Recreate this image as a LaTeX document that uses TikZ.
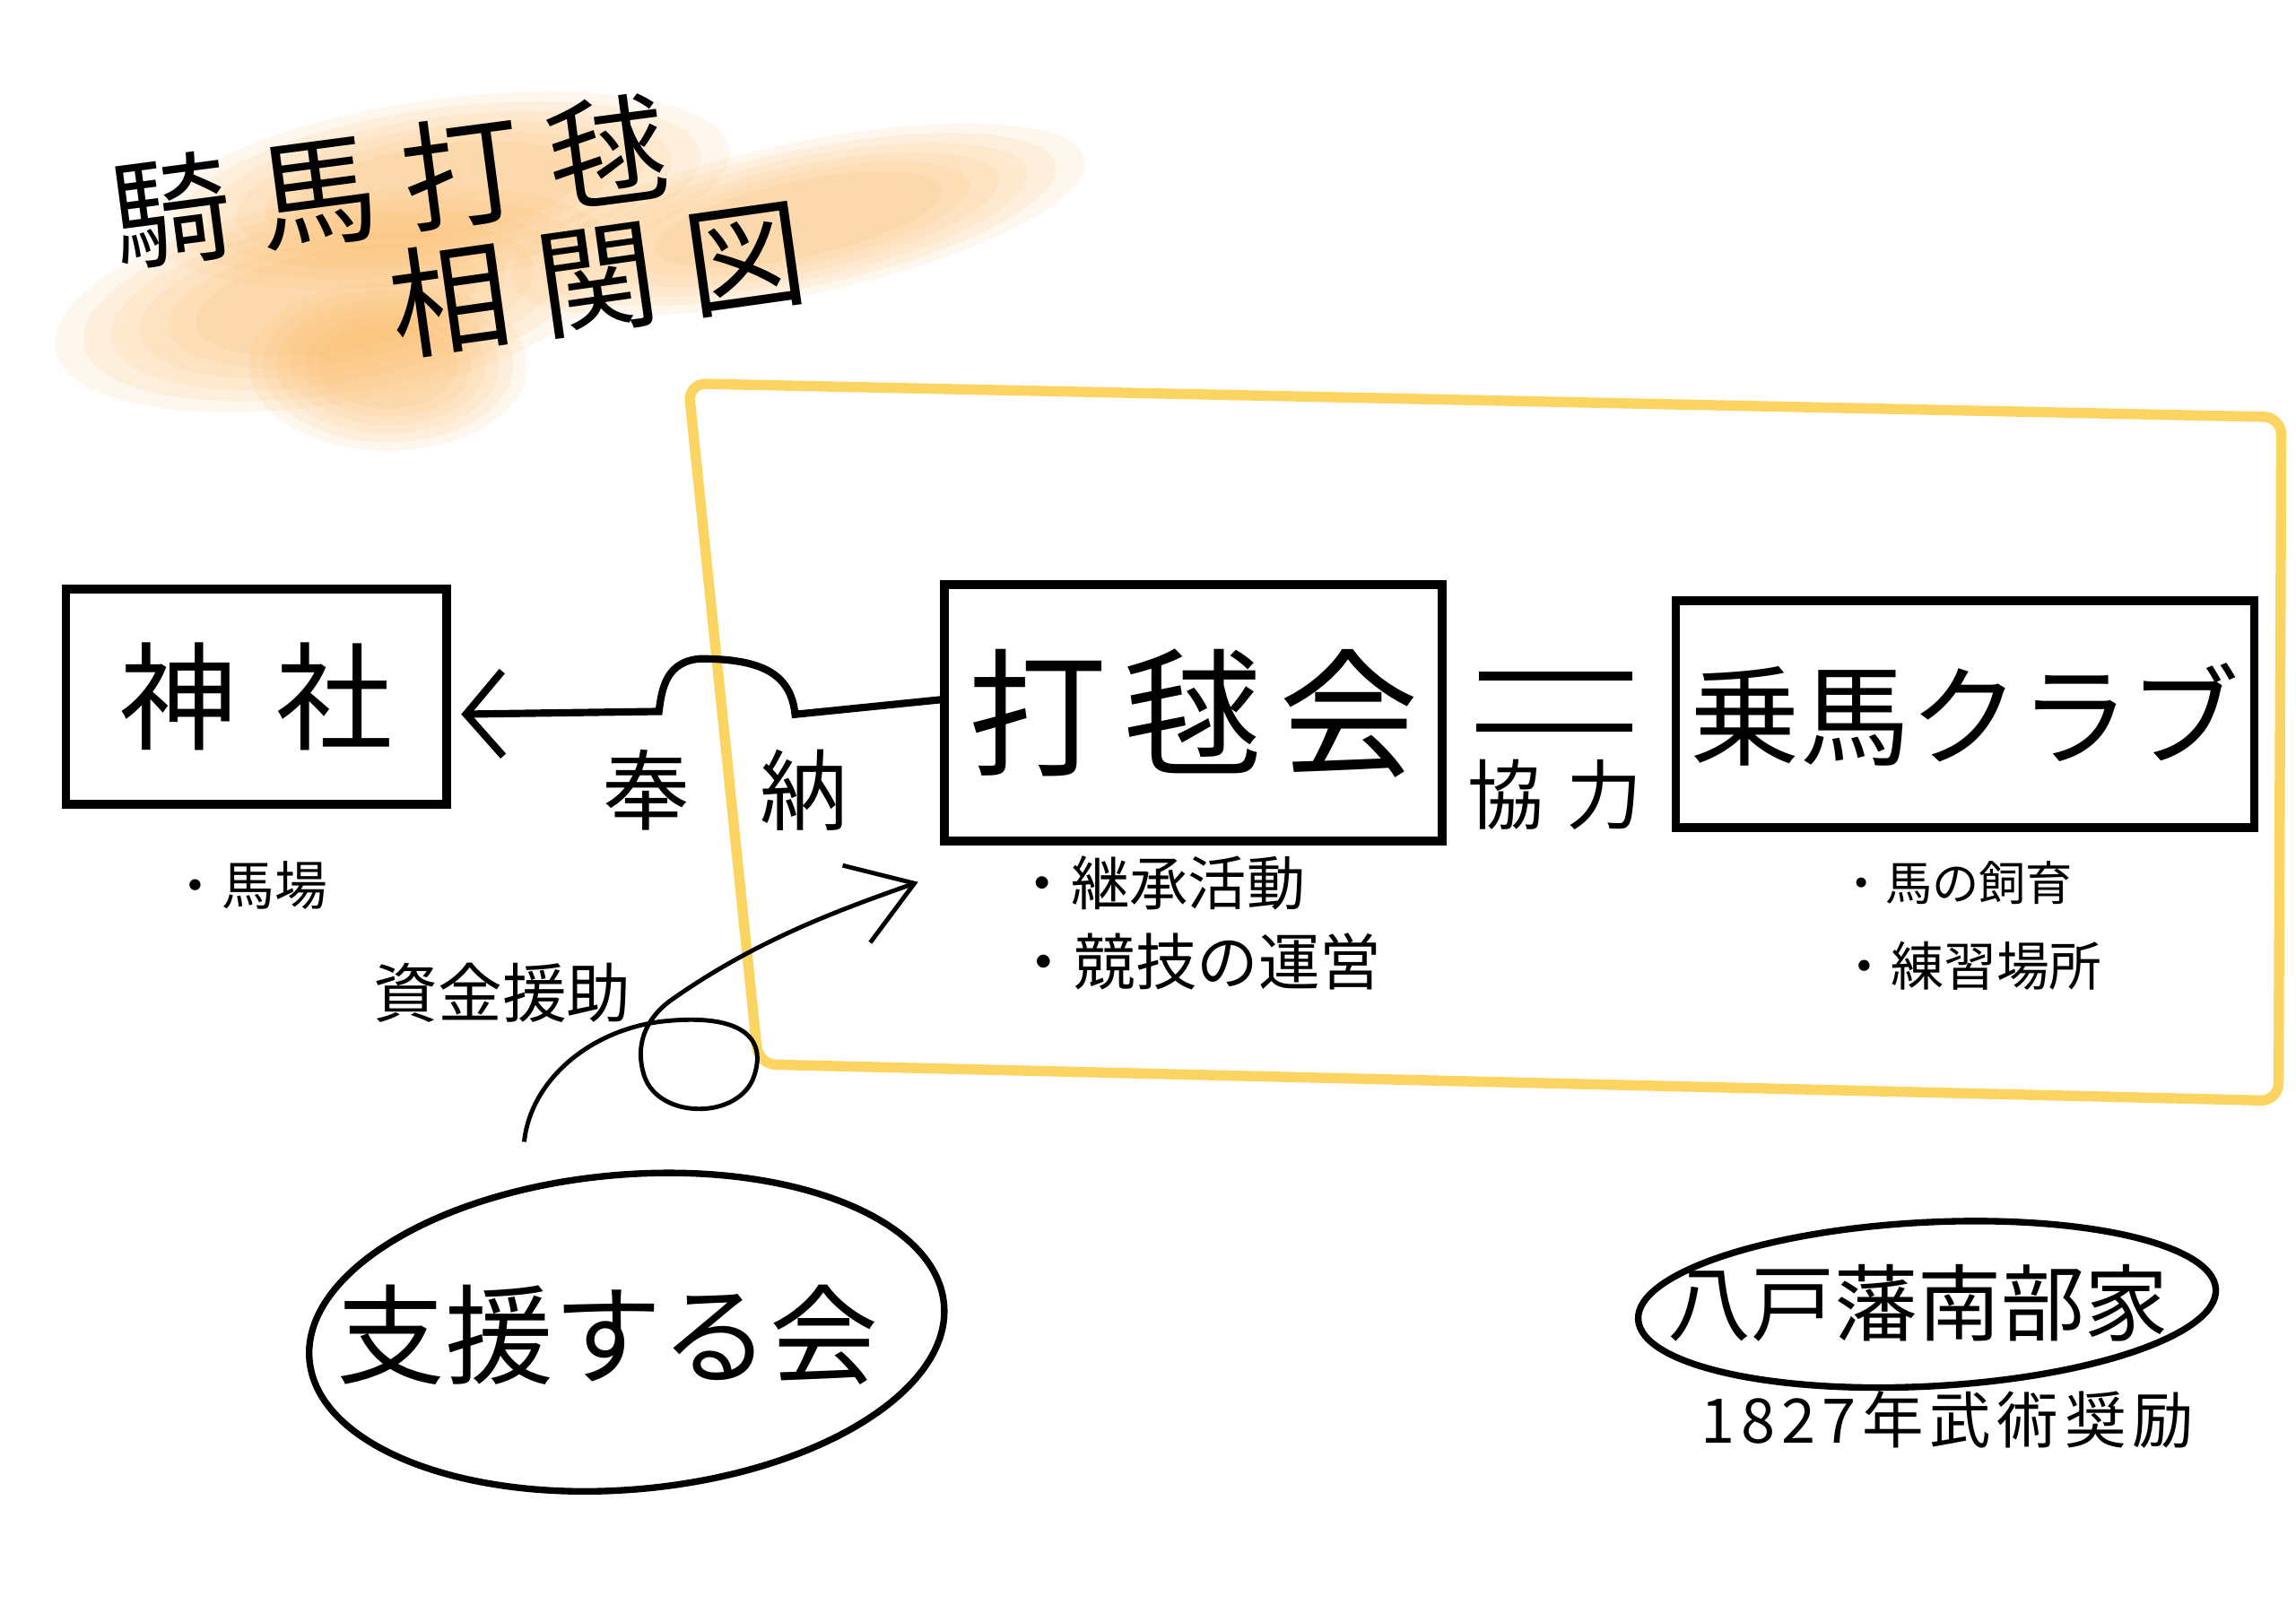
\documentclass[tikz,border=0pt]{standalone}
\usepackage{fontspec}
\setmainfont{Noto Sans CJK JP}
\usetikzlibrary{arrows.meta,shapes.geometric}
\newcommand\hwfont[2]{\fontsize{#1}{#1}\selectfont\addfontfeature{LetterSpace=#2}}
\definecolor{brushorange}{RGB}{250,180,90}
\definecolor{crayon}{RGB}{250,205,70}

\begin{document}
\begin{tikzpicture}[x=1pt,y=-1pt,
    box/.style={draw,line width=6pt,inner sep=0pt},
    ring/.style={draw,ellipse,line width=4.5pt,inner sep=0pt},
    blob/.style={fill=brushorange,fill opacity=0.11}]
  \useasboundingbox (0,0) rectangle (1568,1108);
  % watercolour behind the title
  \foreach \s in {1,0.9,0.8,0.7,0.6,0.5} {
    \fill[blob,rotate around={10:(230,205)}] (230,205) ellipse [x radius=195*\s,y radius=70*\s];
    \fill[blob] (265,250) ellipse [x radius=95*\s,y radius=58*\s];
    \fill[blob,rotate around={12:(545,150)}] (545,150) ellipse [x radius=200*\s,y radius=52*\s];
    \fill[blob,rotate around={8:(300,130)}] (300,130) ellipse [x radius=200*\s,y radius=62*\s];
  }
  \node[rotate=7.5,font=\hwfont{82}{22}] (title) at (266,124) {騎馬打毬};
  \node[rotate=8,font=\hwfont{82}{24}] (subtitle) at (408,190) {相関図};
  % crayon frame
  \draw[crayon,line width=7pt,opacity=0.85,rounded corners=12pt]
    (470,262) -- (1558,285) -- (1556,752) -- (518,727) -- cycle;
  % boxes
  \node[box,minimum width=260,minimum height=147,font=\hwfont{80}{33}] (jinja) at (175,476) {神社};
  \node[box,minimum width=340,minimum height=175,font=\hwfont{95}{12}] (dakyu) at (815,487) {打毬会};
  \node[box,minimum width=395,minimum height=155,font=\hwfont{75}{0}] (joba) at (1342,488) {乗馬クラブ};
  \node[ring,minimum width=435,minimum height=215,rotate=5] (sienring) at (428,910) {};
  \node[font=\hwfont{74}{0}] (sien) at (415,912) {支援する会};
  \node[ring,minimum width=395,minimum height=112,rotate=3] (nanbu) at (1316,891) {};
  \node[font=\hwfont{57}{0}] (nanbutext) at (1310,890) {八戸藩南部家};
  % labels
  \node[anchor=west,font=\hwfont{36}{0}] (baba) at (112,605) {・馬場};
  \node[anchor=west,font=\hwfont{40}{0}] (keisho) at (688,603) {・継承活動};
  \node[anchor=west,font=\hwfont{42}{0}] (unei) at (688,657) {・競技の運営};
  \node[anchor=west,font=\hwfont{32}{0}] (shiiku) at (1252,603) {・馬の飼育};
  \node[anchor=west,font=\hwfont{36}{0}] (renshu) at (1252,660) {・練習場所};
  \node[font=\hwfont{60}{80}] (hono) at (495,540) {奉納};
  \node[font=\hwfont{52}{30}] (kyoryoku) at (1062,543) {協力};
  \node[font=\hwfont{44}{0}] (shikin) at (343,678) {資金援助};
  \node[font=\hwfont{42}{10}] (year) at (1330,970) {1827年武術奨励};
  % connectors
  \draw[line width=5pt,-{Straight Barb[length=25pt,width=58pt]},shorten >=7pt]
    ([yshift=9pt]dakyu.west) -- (543,488)
    .. controls (540,460) and (520,450) .. (478,450)
    .. controls (455,452) and (452,470) .. (450,486)
    -- ([yshift=-12pt]jinja.east);
  \draw[line width=6pt,shorten >=27pt] ([xshift=22pt,yshift=25pt]dakyu.east) -- ([yshift=25pt]dakyu.east -| joba.west);
  \draw[line width=6pt,shorten >=27pt] ([xshift=20pt,yshift=-10pt]dakyu.east) -- ([yshift=-10pt]dakyu.east -| joba.west);
  \coordinate (fundstart) at (358,780);
  \draw[line width=3pt,-{Straight Barb[length=42pt,width=56pt]}]
    (fundstart) .. controls (362,740) and (400,705) .. (450,698)
    .. controls (500,692) and (525,705) .. (515,735)
    .. controls (505,765) and (450,765) .. (440,735)
    .. controls (432,710) and (445,692) .. (460,682)
    .. controls (520,640) and (578,620) .. ([xshift=-15pt,yshift=-25pt]dakyu.south west);
\end{tikzpicture}
\end{document}
